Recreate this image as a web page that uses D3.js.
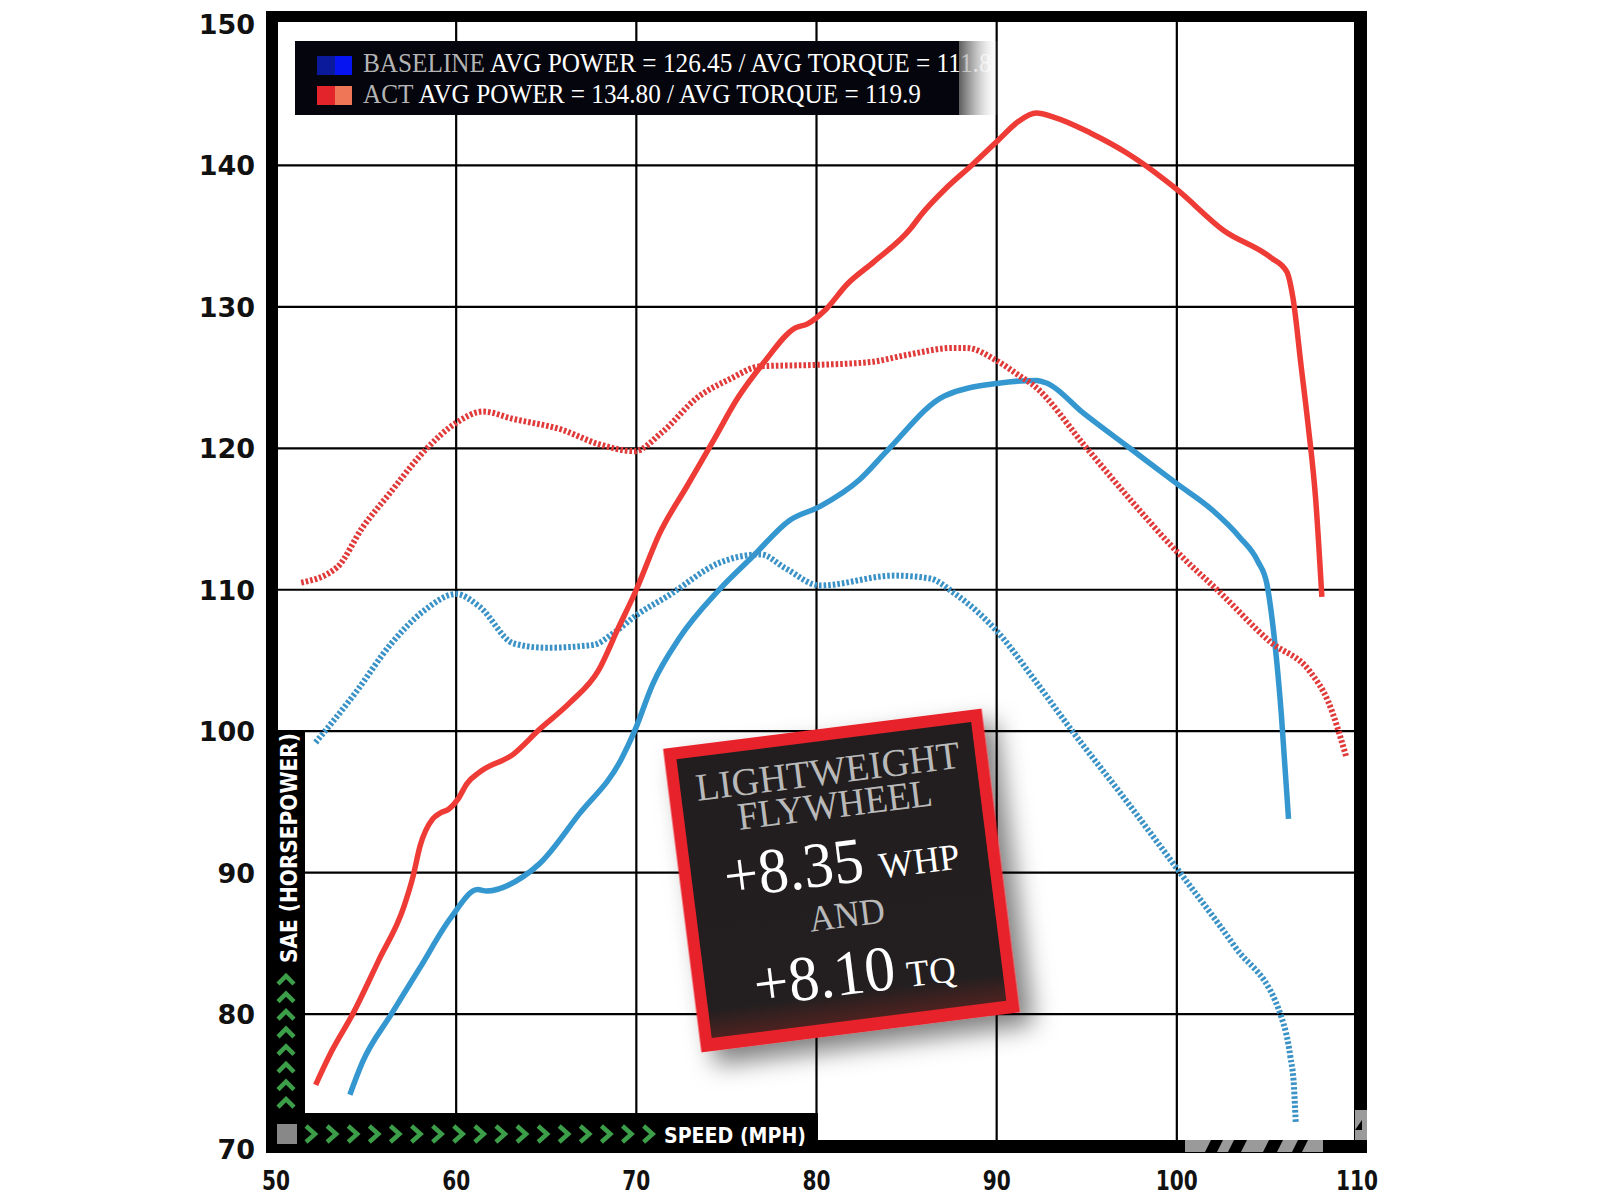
<!DOCTYPE html>
<html>
<head>
<meta charset="utf-8">
<script src="https://cdn.jsdelivr.net/npm/d3@7"></script>
<style>
html,body{margin:0;padding:0;background:#fff;}
svg{display:block;}
</style>
</head>
<body>
<svg id="chart" width="1600" height="1200"></svg>
<script>
// ---------------- DATA ----------------
const xTickLabels = [50, 60, 70, 80, 90, 100, 110];
const yTickLabels = [70, 80, 90, 100, 110, 120, 130, 140, 150];

// ACT (lightweight flywheel) power, [mph, hp]
const actPower = [
  [52.2,75.0],[53.1,77.4],[54.3,80.1],[55.7,83.8],[57.1,87.6],[57.6,89.7],[58.0,91.9],
  [58.7,93.8],[59.1,94.2],[59.6,94.5],[60.1,95.2],[60.6,96.3],[61.3,97.1],[63.2,98.4],
  [64.6,100.1],[66.3,102.0],[67.9,104.3],[69.0,107.3],[70.0,110.0],[71.3,114.0],[72.8,117.3],
  [74.3,120.6],[75.6,123.5],[77.1,126.1],[78.8,128.5],[79.5,128.8],[80.5,129.8],[81.7,131.6],
  [83.2,133.2],[85.2,135.5],[85.8,136.5],[87.2,138.4],[88.6,140.0],[90.1,141.8],[91.2,143.1],
  [92.2,143.7],[93.2,143.4],[95.2,142.3],[97.2,140.9],[97.8,140.4],[100.0,138.3],[102.6,135.4],
  [105.2,133.5],[106.1,132.5],[106.45,130.6],[106.9,125.8],[107.3,121.5],[107.7,116.5],[108.05,109.5]
];
// ACT torque
const actTorque = [
  [51.4,110.5],[53.4,111.6],[54.8,114.4],[56.3,116.8],[58.3,119.9],[60.0,121.8],[61.5,122.6],
  [63.1,122.1],[65.9,121.3],[67.9,120.3],[69.9,119.8],[71.4,121.1],[73.4,123.6],[75.2,124.9],
  [76.9,125.8],[80.0,125.9],[83.0,126.1],[85.0,126.6],[87.6,127.1],[88.3,127.1],[90.0,126.2],
  [91.3,125.1],[92.0,124.5],[95.0,120.0],[97.6,116.1],[100.0,112.7],[102.4,109.8],[105.2,106.3],
  [107.4,104.2],[108.4,102.1],[109.4,98.2]
];
// Baseline power
const basePower = [
  [54.1,74.3],[54.8,76.6],[56.4,80.0],[58.0,83.3],[59.7,86.8],[61.2,88.8],[61.7,88.7],
  [63.7,89.7],[64.6,90.6],[66.8,94.1],[69.2,98.1],[69.9,100.0],[70.9,103.3],[72.4,106.6],
  [74.6,110.0],[76.5,112.4],[78.5,114.9],[80.2,115.9],[82.4,117.8],[83.9,119.8],[87.1,123.7],
  [90.1,124.6],[92.2,124.8],[92.8,124.6],[94.8,122.5],[97.4,120.0],[100.0,117.5],[102.0,115.6],
  [103.5,113.7],[104.5,112.0],[105.0,110.4],[105.3,107.8],[105.8,101.2],[106.2,93.8]
];
// Baseline torque
const baseTorque = [
  [52.2,99.2],[54.4,102.7],[56.4,106.2],[58.2,108.5],[60.0,109.7],[61.3,108.8],[63.2,106.2],
  [65.0,105.9],[67.6,106.1],[68.7,106.9],[70.0,108.2],[71.8,109.6],[74.6,111.9],[76.9,112.5],
  [78.3,111.5],[80.2,110.3],[84.3,111.0],[86.3,110.8],[87.6,109.8],[90.2,106.8],[92.0,103.8],
  [94.2,100.0],[97.0,95.4],[100.0,90.3],[103.2,84.8],[105.8,79.8],[106.3,77.0],[106.5,74.9],[106.6,72.3]
];

const legendBaselineLabel = "BASELINE";
const legendBaselineText = " AVG POWER = 126.45 / AVG TORQUE = 111.8";
const legendActLabel = "ACT";
const legendActText = " AVG POWER = 134.80 / AVG TORQUE = 119.9";
const xAxisTitle = "SPEED (MPH)";
const yAxisTitle = "SAE (HORSEPOWER)";

// ---------------- DRAW ----------------
const svg = d3.select("#chart");
const x = d3.scaleLinear().domain([50, 110]).range([276, 1357]);
const y = d3.scaleLinear().domain([70, 150]).range([1155.5, 24]);

const defs = svg.append("defs");
const sh = defs.append("filter").attr("id","shadow").attr("x","-30%").attr("y","-30%").attr("width","170%").attr("height","170%");
sh.append("feDropShadow").attr("dx",12).attr("dy",14).attr("stdDeviation",12).attr("flood-color","#000").attr("flood-opacity",0.5);
const lg = defs.append("linearGradient").attr("id","legShadow").attr("x1","0").attr("x2","1").attr("y1","0").attr("y2","0");
lg.append("stop").attr("offset","0%").attr("stop-color","#555").attr("stop-opacity",0.9);
lg.append("stop").attr("offset","100%").attr("stop-color","#fff").attr("stop-opacity",0);
const ig = defs.append("linearGradient").attr("id","innerGrad").attr("x1","0").attr("x2","0").attr("y1","0").attr("y2","1");
ig.append("stop").attr("offset","0%").attr("stop-color","#221e1f");
ig.append("stop").attr("offset","90%").attr("stop-color","#231f20");
ig.append("stop").attr("offset","100%").attr("stop-color","#4d2220");

// Gridlines
const grid = svg.append("g");
grid.selectAll("line.v").data(xTickLabels.filter(d => d > 50 && d < 110)).enter().append("line")
  .attr("x1", d => x(d)).attr("x2", d => x(d)).attr("y1", 22).attr("y2", 1142)
  .attr("stroke", "#000").attr("stroke-width", 2.2);
grid.selectAll("line.h").data(yTickLabels.filter(d => d > 70 && d < 150)).enter().append("line")
  .attr("x1", 276).attr("x2", 1356).attr("y1", d => y(d)).attr("y2", d => y(d))
  .attr("stroke", "#000").attr("stroke-width", 2.2);

// Series
const line = d3.line().x(d => x(d[0])).y(d => y(d[1])).curve(d3.curveMonotoneX);
const series = [
  {data: basePower, color: "#3597cf", dash: null, w: 5.5},
  {data: baseTorque, color: "#3a92c6", dash: "2.6,2", w: 6},
  {data: actTorque, color: "#e03a3a", dash: "2.6,2", w: 6},
  {data: actPower, color: "#ee3b36", dash: null, w: 5.5}
];
svg.append("g").selectAll("path").data(series).enter().append("path")
  .attr("d", d => line(d.data))
  .attr("fill", "none")
  .attr("stroke", d => d.color)
  .attr("stroke-width", d => d.w)
  .attr("stroke-dasharray", d => d.dash)
  .attr("stroke-linejoin", "round");

// Frame
const frame = svg.append("g").attr("fill", "#000");
frame.append("rect").attr("x", 266).attr("y", 11).attr("width", 1101).attr("height", 11);   // top
frame.append("rect").attr("x", 1354).attr("y", 11).attr("width", 13).attr("height", 1142);  // right
frame.append("rect").attr("x", 266).attr("y", 11).attr("width", 12).attr("height", 1142);   // left
frame.append("rect").attr("x", 266).attr("y", 1140).attr("width", 1101).attr("height", 13); // bottom
frame.append("rect").attr("x", 266).attr("y", y(100) - 1).attr("width", 39).attr("height", 1153 - y(100) + 1); // wide left
frame.append("rect").attr("x", 266).attr("y", 1113).attr("width", 552).attr("height", 40); // wide bottom

// watermark-like marks bottom right
const wm = svg.append("g");
wm.append("rect").attr("x", 1185).attr("y", 1140).attr("width", 138).attr("height", 12).attr("fill", "#9a9a9a");
wm.append("rect").attr("x", 1355).attr("y", 1110).attr("width", 12).attr("height", 30).attr("fill", "#9a9a9a");
[[1205,12],[1228,13],[1263,14],[1292,10]].forEach(([sx, sw]) => {
  wm.append("path").attr("d", `M${sx},1152 L${sx+6},1140 L${sx+6+sw},1140 L${sx+sw},1152 Z`).attr("fill", "#000");
});
wm.append("path").attr("d", "M1355,1130 L1362,1120 L1362,1130 Z").attr("fill", "#000");

// gray square
svg.append("rect").attr("x", 277).attr("y", 1124).attr("width", 20).attr("height", 20).attr("fill", "#888");

// chevrons
const green = "#3c9e48";
const chevR = d3.range(17).map(i => 311 + i * 21.1);
svg.append("g").selectAll("path").data(chevR).enter().append("path")
  .attr("d", d => `M${d-5},${1126} L${d+4},${1134} L${d-5},${1142}`)
  .attr("fill", "none").attr("stroke", green).attr("stroke-width", 4.5).attr("stroke-linejoin", "miter");
const chevU = d3.range(8).map(i => 979 + i * 17.6);
svg.append("g").selectAll("path").data(chevU).enter().append("path")
  .attr("d", d => `M${278},${d+5} L${286},${d-3} L${294},${d+5}`)
  .attr("fill", "none").attr("stroke", green).attr("stroke-width", 4.5).attr("stroke-linejoin", "miter");

// Axis titles
svg.append("text").attr("x", 664).attr("y", 1143).text(xAxisTitle)
  .attr("font-family", "DejaVu Sans").attr("font-weight", "bold").attr("font-size", 22)
  .attr("fill", "#fff").attr("textLength", 142).attr("lengthAdjust", "spacingAndGlyphs");
svg.append("text").attr("transform", "translate(297,963) rotate(-90)").text(yAxisTitle)
  .attr("font-family", "DejaVu Sans").attr("font-weight", "bold").attr("font-size", 23)
  .attr("fill", "#fff").attr("textLength", 230).attr("lengthAdjust", "spacingAndGlyphs");

// Tick labels
svg.append("g").selectAll("text").data(yTickLabels).enter().append("text")
  .attr("x", 255).attr("y", d => Math.min(y(d), 1149) + 10)
  .attr("text-anchor", "end").attr("font-family", "DejaVu Sans").attr("font-weight", "bold")
  .attr("font-size", 27).attr("fill", "#111").text(d => d);
svg.append("g").selectAll("text").data(xTickLabels).enter().append("text")
  .attr("x", d => x(d)).attr("y", 1190).attr("text-anchor", "middle")
  .attr("font-family", "DejaVu Sans").attr("font-weight", "bold").attr("font-size", 27)
  .attr("fill", "#111").text(d => d)
  .attr("textLength", d => String(d).length * 14).attr("lengthAdjust", "spacingAndGlyphs");

// Legend
const leg = svg.append("g");
leg.append("rect").attr("x", 959).attr("y", 41).attr("width", 40).attr("height", 74).attr("fill", "url(#legShadow)");
leg.append("rect").attr("x", 295).attr("y", 41).attr("width", 664).attr("height", 74).attr("fill", "#05050d");
leg.append("rect").attr("x", 317).attr("y", 56).attr("width", 18).attr("height", 19).attr("fill", "#0b1a9a");
leg.append("rect").attr("x", 335).attr("y", 56).attr("width", 17).attr("height", 19).attr("fill", "#0614f2");
leg.append("rect").attr("x", 317).attr("y", 86).attr("width", 18).attr("height", 19).attr("fill", "#e3242a");
leg.append("rect").attr("x", 335).attr("y", 86).attr("width", 17).attr("height", 19).attr("fill", "#f07658");
const legText = leg.append("g");
const t1 = legText.append("text").attr("x", 0).attr("y", 72)
  .attr("font-family", "Liberation Serif").attr("font-size", 27);
t1.append("tspan").attr("fill", "#b4b4b4").text(legendBaselineLabel);
t1.append("tspan").attr("fill", "#fff").text(legendBaselineText);
const t2 = legText.append("text").attr("x", 0).attr("y", 103)
  .attr("font-family", "Liberation Serif").attr("font-size", 27);
t2.append("tspan").attr("fill", "#b4b4b4").text(legendActLabel);
t2.append("tspan").attr("fill", "#fff").text(legendActText);
const w2 = t2.node().getComputedTextLength();
const sc = 558 / w2;
legText.attr("transform", `translate(363,0) scale(${sc},1)`);
leg.append("rect").attr("x", 959).attr("y", 41).attr("width", 40).attr("height", 74).attr("fill", "url(#legShadow)").attr("opacity", 0.55);

// Annotation box
const ann = svg.append("g").attr("transform", "translate(841.5,880.5) rotate(-7.2)");
ann.append("rect").attr("x", -160.5).attr("y", -153).attr("width", 321).attr("height", 306)
  .attr("fill", "#e8232a").attr("filter", "url(#shadow)");
ann.append("rect").attr("x", -148.5).attr("y", -141).attr("width", 297).attr("height", 281)
  .attr("fill", "url(#innerGrad)");
const annLines = [
  {t: "LIGHTWEIGHT", x: -133, y: -97, fs: 39, w: 266, c: "#b9b9b9"},
  {t: "FLYWHEEL", x: -95, y: -63, fs: 39, w: 196, c: "#b9b9b9"},
  {t: "+8.35", x: -116, y: 3, fs: 64, w: 140, c: "#ffffff"},
  {t: "WHP", x: 39, y: 3, fs: 37, w: 81, c: "#ffffff"},
  {t: "AND", x: -37, y: 47, fs: 37, w: 76, c: "#b9b9b9"},
  {t: "+8.10", x: -100, y: 114, fs: 64, w: 142, c: "#ffffff"},
  {t: "TQ", x: 53, y: 114, fs: 37, w: 49, c: "#ffffff"}
];
ann.selectAll("text").data(annLines).enter().append("text")
  .attr("x", d => d.x).attr("y", d => d.y).text(d => d.t)
  .attr("font-family", "Liberation Serif").attr("font-size", d => d.fs)
  .attr("fill", d => d.c).attr("textLength", d => d.w).attr("lengthAdjust", "spacingAndGlyphs");
</script>
</body>
</html>
